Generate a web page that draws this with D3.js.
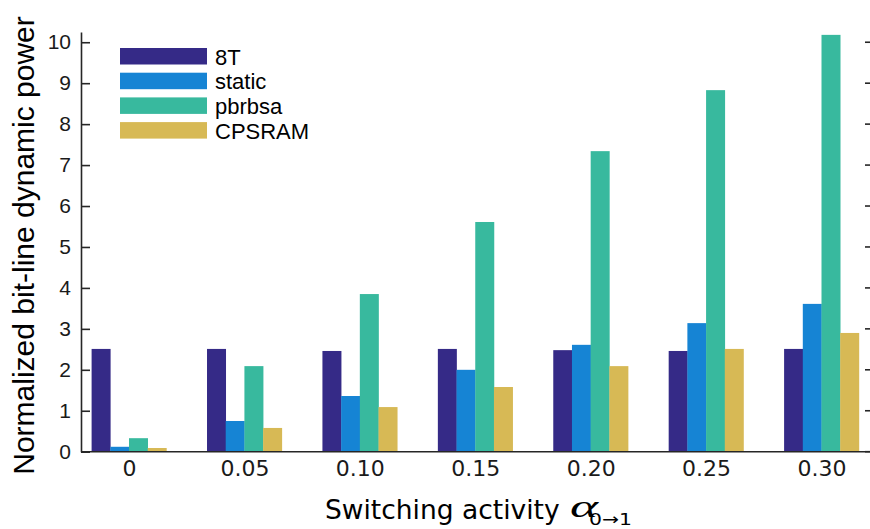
<!DOCTYPE html>
<html>
<head>
<meta charset="utf-8">
<script src="https://cdn.jsdelivr.net/npm/d3@7"></script>
<style>
  html, body { margin: 0; padding: 0; background: #fff; overflow: hidden; }
  svg { display: block; }
</style>
</head>
<body>
<svg id="chart" width="870" height="529"></svg>
<script>
// Switching activity levels (x categories)
const categories = ["0", "0.05", "0.10", "0.15", "0.20", "0.25", "0.30"];
// Series names, in legend order
const seriesNames = ["8T", "static", "pbrbsa", "CPSRAM"];
// Normalized bit-line dynamic power per series
const val8T     = [2.51, 2.51, 2.46, 2.51, 2.48, 2.46, 2.51];
const valStatic = [0.12, 0.75, 1.36, 2.00, 2.61, 3.14, 3.61];
const valPbrbsa = [0.33, 2.09, 3.85, 5.61, 7.34, 8.83, 10.18];
const valCpsram = [0.09, 0.58, 1.09, 1.58, 2.09, 2.51, 2.90];
const yTicks = [0, 1, 2, 3, 4, 5, 6, 7, 8, 9, 10];

const seriesValues = [val8T, valStatic, valPbrbsa, valCpsram];
const colors = ["#352a87", "#1684d4", "#38b99e", "#d7b955"];

const svg = d3.select("#chart");
const plotLeft = 81, plotRight = 870, plotTop = 32, plotBottom = 451.7;

const x = d3.scalePoint().domain(categories).range([129, 821.5]);
const groupW = 74.8;
const xs = d3.scaleBand().domain(seriesNames).range([-groupW / 2, groupW / 2]).padding(0);
const y = d3.scaleLinear().domain([0, 10.25]).range([plotBottom, plotTop]);

// Bars
const g = svg.append("g");
seriesNames.forEach((name, si) => {
  g.selectAll(null)
    .data(categories.map((c, i) => ({ c, v: seriesValues[si][i] })))
    .enter().append("rect")
    .attr("x", d => x(d.c) + xs(name))
    .attr("width", xs.bandwidth() + 0.3)
    .attr("y", d => y(d.v))
    .attr("height", d => y(0) - y(d.v))
    .attr("fill", colors[si]);
});

const axisColor = "#262626";

// Left axis
const yAxis = d3.axisLeft(y).tickValues(yTicks).tickSize(0).tickPadding(10);
const ya = svg.append("g").attr("transform", `translate(${plotLeft},0)`).call(yAxis);
ya.select(".domain").attr("stroke", axisColor).attr("stroke-width", 1.6);
ya.selectAll("text")
  .attr("font-family", "Liberation Sans, Arial, sans-serif")
  .attr("font-size", 21).attr("fill", "#1a1a1a");
// inward ticks on left
ya.selectAll(".tick").append("line")
  .attr("x1", 0).attr("x2", 9).attr("stroke", axisColor).attr("stroke-width", 1.6);

// Right side: inward tick marks of the box, at the canvas edge
const ra = svg.append("g").attr("transform", `translate(${plotRight},0)`);
ra.selectAll(null).data(yTicks).enter().append("line")
  .attr("x1", -5).attr("x2", 0)
  .attr("y1", d => y(d)).attr("y2", d => y(d))
  .attr("stroke", axisColor).attr("stroke-width", 1.6);

// Bottom axis
svg.append("line").attr("x1", plotLeft).attr("x2", plotRight)
  .attr("y1", plotBottom).attr("y2", plotBottom)
  .attr("stroke", axisColor).attr("stroke-width", 1.6);
const xAxis = d3.axisBottom(x).tickSize(0).tickPadding(9);
const xa = svg.append("g").attr("transform", `translate(0,${plotBottom})`).call(xAxis);
xa.select(".domain").remove();
xa.selectAll("text")
  .attr("font-family", "DejaVu Sans, sans-serif")
  .attr("font-size", 22).attr("fill", "#1a1a1a");

// Y axis title
svg.append("text")
  .attr("transform", `translate(34,${(13 + 478) / 2}) rotate(-90)`)
  .attr("text-anchor", "middle")
  .attr("font-family", "Liberation Sans, Arial, sans-serif")
  .attr("font-size", 30).attr("fill", "#000")
  .text("Normalized bit-line dynamic power");

// X axis title: words, then the alpha symbol with its subscript
svg.append("text")
  .attr("x", 325).attr("y", 519)
  .attr("font-family", "DejaVu Sans, sans-serif")
  .attr("font-size", 26.5).attr("fill", "#000")
  .text("Switching activity");
svg.append("text")
  .attr("x", 570).attr("y", 517)
  .attr("font-family", "Liberation Serif, Times New Roman, serif")
  .attr("font-style", "italic").attr("font-size", 31).attr("fill", "#000")
  .attr("textLength", 28).attr("lengthAdjust", "spacingAndGlyphs")
  .text("α");
svg.append("text")
  .attr("x", 589).attr("y", 525)
  .attr("font-family", "DejaVu Sans, sans-serif")
  .attr("font-size", 16).attr("fill", "#000")
  .attr("textLength", 43).attr("lengthAdjust", "spacingAndGlyphs")
  .text("0→1");

// Legend
const lg = svg.append("g");
seriesNames.forEach((name, i) => {
  const ry = 48 + i * 24.7;
  lg.append("rect").attr("x", 120).attr("y", ry).attr("width", 87).attr("height", 16.5)
    .attr("fill", colors[i]);
  lg.append("text").attr("x", 215).attr("y", ry + 16.5)
    .attr("font-family", "Liberation Sans, Arial, sans-serif")
    .attr("font-size", 22).attr("fill", "#000").text(name);
});
</script>
</body>
</html>
